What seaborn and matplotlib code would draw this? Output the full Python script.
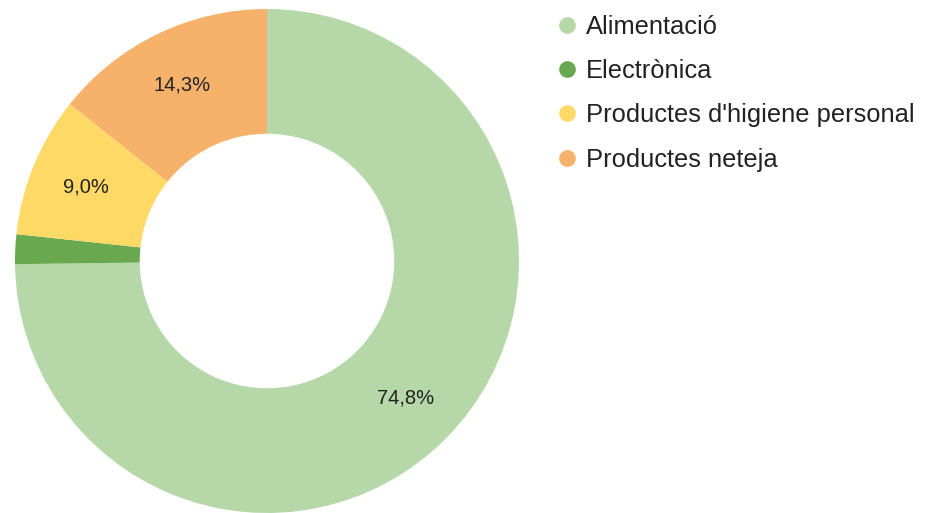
import matplotlib
matplotlib.use("Agg")
import matplotlib.pyplot as plt
from matplotlib.lines import Line2D
import seaborn as sns

# Shares per product category (%)
categories = ["Alimentació", "Electrònica", "Productes d'higiene personal", "Productes neteja"]
shares = [74.8, 1.9, 9.0, 14.3]
colors = ["#b6d7a8", "#6aa84f", "#ffd966", "#f6b26b"]

sns.set_theme(style="white")
plt.rcParams["font.family"] = ["Liberation Sans", "DejaVu Sans"]
palette = sns.color_palette(colors)

W, H = 931, 513
fig = plt.figure(figsize=(W / 100, H / 100), dpi=100)
fig.patch.set_facecolor("white")

# Donut centred at (267, 261) px with outer radius 252 px
cx, cy, R = 267, 261, 252
ax = fig.add_axes([(cx - R) / W, (H - cy - R) / H, 2 * R / W, 2 * R / H])


def fmt(p):
    return f"{p:.1f}".replace(".", ",") + "%" if p >= 5 else ""


wedges, _, autotexts = ax.pie(
    shares,
    colors=palette,
    startangle=90,
    counterclock=False,
    radius=1.0,
    wedgeprops=dict(width=0.495, linewidth=0),
    autopct=fmt,
    pctdistance=0.775,
    textprops=dict(fontsize=14.5, color="#222222"),
)
ax.set_xlim(-1, 1)
ax.set_ylim(-1, 1)
ax.set_aspect("equal")
ax.axis("off")

handles = [
    Line2D([0], [0], marker="o", linestyle="", markersize=12,
           markerfacecolor=c, markeredgewidth=0)
    for c in palette
]
fig.legend(
    handles, categories,
    loc="upper left",
    bbox_to_anchor=(554.5 / W, 1 - 14.5 / H),
    frameon=False,
    fontsize=18.4,
    handlelength=1.0,
    handletextpad=0.23,
    labelspacing=0.8,
    borderpad=0,
    borderaxespad=0,
    labelcolor="#222222",
)

fig.savefig("out.png", dpi=100, facecolor="white")
